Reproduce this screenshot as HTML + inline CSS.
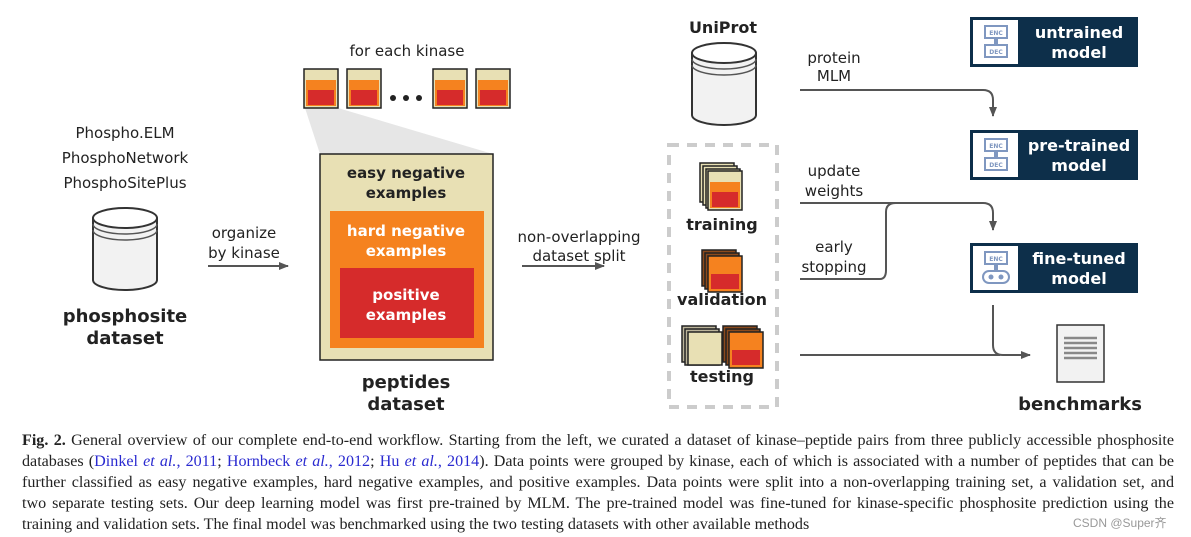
<!DOCTYPE html>
<html><head><meta charset="utf-8"><style>
body{margin:0;background:#fff;width:1191px;height:537px;overflow:hidden;position:relative}
svg{position:absolute;left:0;top:0}
.cap{position:absolute;left:22px;top:430px;width:1152px;font-family:"Liberation Serif",serif;font-size:16.1px;line-height:21px;color:#222}
.cap div{text-align:justify;text-align-last:justify;white-space:nowrap;word-spacing:-1px}
.cap div.l{text-align-last:left;word-spacing:0}
.cap a{color:#2a2ad0;text-decoration:none}
.wm{position:absolute;left:1073px;top:514px;font-family:"Liberation Sans","Noto Sans CJK SC",sans-serif;font-size:12px;color:#999}
</style></head><body>
<svg width="1191" height="537" font-family="'DejaVu Sans','Liberation Sans',sans-serif">
<defs>
<marker id="ah" markerWidth="10" markerHeight="8" refX="9" refY="4" orient="auto" markerUnits="userSpaceOnUse"><path d="M0,0L10,4L0,8z" fill="#555"/></marker>
<g id="cyl"><path d="M0,10 v62 a32,10 0 0 0 64,0 v-62" fill="#f2f2f2" stroke="#333" stroke-width="2"/><ellipse cx="32" cy="10" rx="32" ry="10" fill="#fff" stroke="#333" stroke-width="2"/><path d="M0,16 a32,10 0 0 0 64,0 M0,22 a32,10 0 0 0 64,0" fill="none" stroke="#555" stroke-width="1.5"/></g>
<g id="pep"><rect x="0" y="0" width="34" height="39" fill="#e8e0b4" stroke="#222" stroke-width="1.5"/><rect x="2" y="11" width="30" height="26" fill="#f5821f"/><rect x="4" y="21" width="26" height="15" fill="#d62b2b"/></g>
<g id="bpep"><rect x="0" y="0" width="34" height="39" fill="#e8e0b4" stroke="#222" stroke-width="1.5"/></g>
<g id="opep"><rect x="0" y="0" width="34" height="36" fill="#f5821f" stroke="#222" stroke-width="1.5"/><rect x="3" y="18" width="28" height="15" fill="#d62b2b"/></g>
<g id="brn"><rect x="0" y="0" width="34" height="36" fill="#8b4a1c" stroke="#222" stroke-width="1.5"/></g>
<g id="gry"><rect x="0" y="0" width="34" height="36" fill="#bbb49a" stroke="#222" stroke-width="1.5"/></g>
</defs>
<g fill="#222" font-size="15" text-anchor="middle">
<text x="125" y="138">Phospho.ELM</text><text x="125" y="163">PhosphoNetwork</text><text x="125" y="188">PhosphoSitePlus</text>
<text x="244" y="238">organize</text><text x="244" y="258">by kinase</text>
<text x="407" y="56">for each kinase</text>
<text x="579" y="242">non-overlapping</text><text x="579" y="261">dataset split</text>
<text x="834" y="63">protein</text><text x="834" y="81">MLM</text>
<text x="834" y="176">update</text><text x="834" y="196">weights</text>
<text x="834" y="252">early</text><text x="834" y="272">stopping</text>
</g>
<g fill="#222" font-size="18" font-weight="bold" text-anchor="middle">
<text x="125" y="322">phosphosite</text><text x="125" y="344">dataset</text>
<text x="406" y="388">peptides</text><text x="406" y="410">dataset</text>
<text x="723" y="33" font-size="16">UniProt</text>
<text x="1080" y="410">benchmarks</text>
</g>
<use href="#cyl" x="93" y="208"/>
<use href="#cyl" x="692" y="43"/>
<line x1="208" y1="266" x2="288" y2="266" stroke="#555" stroke-width="2" marker-end="url(#ah)"/>
<line x1="522" y1="266" x2="604" y2="266" stroke="#555" stroke-width="2" marker-end="url(#ah)"/>
<polygon points="305,108 338,108 493,154 320,154" fill="#e6e6e6"/>
<use href="#pep" x="304" y="69"/><use href="#pep" x="347" y="69"/><use href="#pep" x="433" y="69"/><use href="#pep" x="476" y="69"/>
<circle cx="393" cy="98" r="3" fill="#222"/><circle cx="406" cy="98" r="3" fill="#222"/><circle cx="419" cy="98" r="3" fill="#222"/>
<rect x="320" y="154" width="173" height="206" fill="#e8e0b4" stroke="#222" stroke-width="1.5"/>
<rect x="330" y="211" width="154" height="137" fill="#f5821f"/>
<rect x="340" y="268" width="134" height="70" fill="#d62b2b"/>
<g font-size="15" font-weight="bold" text-anchor="middle"><text x="406" y="178" fill="#222">easy negative</text><text x="406" y="198" fill="#222">examples</text>
<text x="406" y="236" fill="#fff">hard negative</text><text x="406" y="256" fill="#fff">examples</text>
<text x="406" y="300" fill="#fff">positive</text><text x="406" y="320" fill="#fff">examples</text></g>
<rect x="669" y="145" width="108" height="262" fill="none" stroke="#ccc" stroke-width="4" stroke-dasharray="10,8"/>
<use href="#bpep" x="700" y="163"/><use href="#bpep" x="703" y="166"/><use href="#bpep" x="706" y="169"/>
<g transform="translate(708,171)"><rect width="34" height="39" fill="#e8e0b4" stroke="#222" stroke-width="1.5"/><rect x="2" y="11" width="30" height="26" fill="#f5821f"/><rect x="4" y="21" width="26" height="15" fill="#d62b2b"/></g>
<use href="#brn" x="702" y="250"/><use href="#brn" x="705" y="253"/><use href="#opep" x="708" y="256"/>
<use href="#gry" x="682" y="326"/><use href="#gry" x="685" y="329"/><rect x="688" y="332" width="34" height="33" fill="#e8e0b4" stroke="#222" stroke-width="1.5"/>
<use href="#brn" x="723" y="326"/><use href="#brn" x="726" y="329"/><use href="#opep" x="729" y="332"/>
<g font-size="16" font-weight="bold" fill="#222" text-anchor="middle"><text x="722" y="230">training</text><text x="722" y="305">validation</text><text x="722" y="382">testing</text></g>
<g fill="none" stroke="#555" stroke-width="2">
<path d="M800,90 H983 Q993,90 993,100 V116" marker-end="url(#ah)"/>
<path d="M800,203 H983 Q993,203 993,213 V230" marker-end="url(#ah)"/>
<path d="M800,279 H880 Q886,279 886,270 V212 Q886,203 896,203"/>
<path d="M993,305 V345 Q993,355 1003,355 H1030" marker-end="url(#ah)"/>
<path d="M800,355 H1000"/>
</g>
<g font-size="16" font-weight="bold" fill="#fff" text-anchor="middle">
<g transform="translate(970,17)"><rect width="168" height="50" fill="#0d2f4a"/><rect x="3" y="3" width="45" height="44" fill="#fff"/><rect x="15" y="9" width="22" height="12" fill="none" stroke="#7f97c0" stroke-width="2"/><rect x="24" y="21" width="4" height="7" fill="#7f97c0"/><rect x="15" y="28" width="22" height="12" fill="none" stroke="#7f97c0" stroke-width="2"/><text x="26" y="18" font-size="6" fill="#7f97c0">ENC</text><text x="26" y="37" font-size="6" fill="#7f97c0">DEC</text><text x="109" y="21">untrained</text><text x="109" y="41">model</text></g>
<g transform="translate(970,130)"><rect width="168" height="50" fill="#0d2f4a"/><rect x="3" y="3" width="45" height="44" fill="#fff"/><rect x="15" y="9" width="22" height="12" fill="none" stroke="#7f97c0" stroke-width="2"/><rect x="24" y="21" width="4" height="7" fill="#7f97c0"/><rect x="15" y="28" width="22" height="12" fill="none" stroke="#7f97c0" stroke-width="2"/><text x="26" y="18" font-size="6" fill="#7f97c0">ENC</text><text x="26" y="37" font-size="6" fill="#7f97c0">DEC</text><text x="109" y="21">pre-trained</text><text x="109" y="41">model</text></g>
<g transform="translate(970,243)"><rect width="168" height="50" fill="#0d2f4a"/><rect x="3" y="3" width="45" height="44" fill="#fff"/><rect x="15" y="9" width="22" height="12" fill="none" stroke="#7f97c0" stroke-width="2"/><rect x="24" y="21" width="4" height="7" fill="#7f97c0"/><rect x="13" y="28" width="26" height="12" rx="6" fill="none" stroke="#7f97c0" stroke-width="2"/><circle cx="21" cy="34" r="2.5" fill="#7f97c0"/><circle cx="31" cy="34" r="2.5" fill="#7f97c0"/><text x="26" y="18" font-size="6" fill="#7f97c0">ENC</text><text x="109" y="21">fine-tuned</text><text x="109" y="41">model</text></g>
</g>
<rect x="1057" y="325" width="47" height="57" fill="#f2f2f2" stroke="#333" stroke-width="1.5"/>
<g stroke="#888" stroke-width="2.5"><line x1="1064" y1="338" x2="1097" y2="338"/><line x1="1064" y1="343" x2="1097" y2="343"/><line x1="1064" y1="348" x2="1097" y2="348"/><line x1="1064" y1="353" x2="1097" y2="353"/><line x1="1064" y1="358" x2="1097" y2="358"/></g>
</svg>
<div class="cap">
<div><b>Fig. 2.</b> General overview of our complete end-to-end workflow. Starting from the left, we curated a dataset of kinase–peptide pairs from three publicly accessible phosphosite</div>
<div>databases (<a>Dinkel <i>et al.</i>, 2011</a>; <a>Hornbeck <i>et al.</i>, 2012</a>; <a>Hu <i>et al.</i>, 2014</a>). Data points were grouped by kinase, each of which is associated with a number of peptides that can be</div>
<div>further classified as easy negative examples, hard negative examples, and positive examples. Data points were split into a non-overlapping training set, a validation set, and</div>
<div>two separate testing sets. Our deep learning model was first pre-trained by MLM. The pre-trained model was fine-tuned for kinase-specific phosphosite prediction using the</div>
<div class="l">training and validation sets. The final model was benchmarked using the two testing datasets with other available methods</div>
</div>
<div class="wm">CSDN @Super齐</div>
</body></html>
